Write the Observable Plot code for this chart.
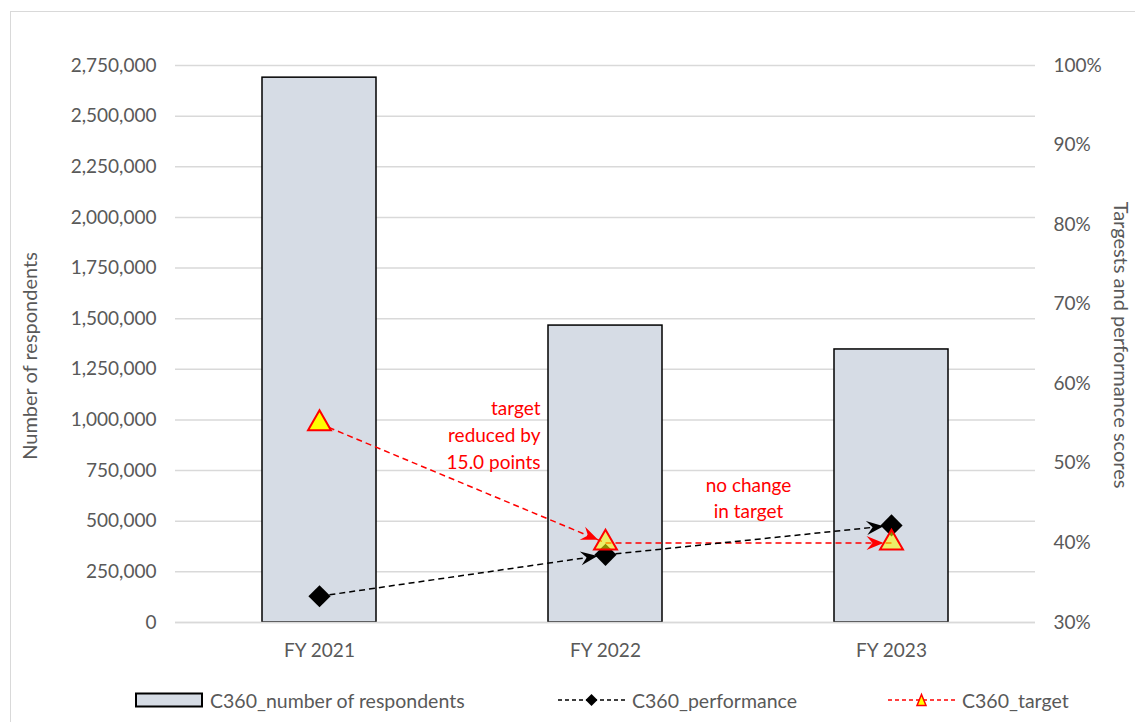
<!DOCTYPE html>
<html><head><meta charset="utf-8">
<script src="https://cdn.jsdelivr.net/npm/d3@7"></script>
<script src="https://cdn.jsdelivr.net/npm/@observablehq/plot@0.6"></script>
<style>
body{margin:0;background:#fff;overflow:hidden;font-family:Lato, sans-serif;}
#wrap{position:relative;width:1135px;height:722px;overflow:hidden;}
#frame{position:absolute;left:10px;top:11px;width:1300px;height:900px;border:1.5px solid #d9d9d9;box-sizing:border-box;pointer-events:none;}
#chart{position:absolute;left:0;top:0;}
#legend{position:absolute;top:680px;left:0;width:1135px;height:42px;}
.item{position:absolute;top:10px;height:20px;display:flex;align-items:center;font-size:19.5px;color:#595959;white-space:nowrap;}
.item svg{margin-right:7px;}
</style></head><body>
<div id="wrap"><div id="frame"></div><div id="chart"></div><div id="legend"></div></div>
<script>
// ---- data ----
const categories = ["FY 2021", "FY 2022", "FY 2023"];
const respondents = [2690000, 1466000, 1348000];
const performance = [33.3, 38.5, 42.2];   // %
const target = [55, 40, 40];              // %
const leftTicks = [0, 250000, 500000, 750000, 1000000, 1250000, 1500000, 1750000, 2000000, 2250000, 2500000, 2750000];
const rightTickValues = [30, 40, 50, 60, 70, 80, 90, 100];
const rightTickLabels = ["30%", "40%", "50%", "60%", "70%", "80%", "90%", "100%"];
const seriesNames = ["C360_number of respondents", "C360_performance", "C360_target"];
const leftTitle = "Number of respondents";
const rightTitle = "Targests and performance scores";
const note1 = "target\nreduced by\n15.0 points";
const note2 = "no change\nin target";

// ---- helpers ----
const leftMax = 2750000, rMin = 30, rMax = 100;
const toLeft = p => (p - rMin) / (rMax - rMin) * leftMax;
const rightTickPos = rightTickValues.map(toLeft);

const bars = categories.map((c, i) => ({cat: c, value: respondents[i]}));
const perfPts = categories.map((c, i) => ({cat: c, v: toLeft(performance[i])}));
const targPts = categories.map((c, i) => ({cat: c, v: toLeft(target[i]), overlap: Math.abs(target[i] - performance[i]) < 3}));
const segs = pts => pts.slice(0, -1).map((p, i) => ({x1: p.cat, y1: p.v, x2: pts[i + 1].cat, y2: pts[i + 1].v}));

function stealth(color) {
  const ns = "http://www.w3.org/2000/svg";
  const m = document.createElementNS(ns, "marker");
  m.setAttribute("markerUnits", "userSpaceOnUse");
  m.setAttribute("orient", "auto");
  m.setAttribute("markerWidth", "1");
  m.setAttribute("markerHeight", "1");
  m.setAttribute("refX", "8");
  m.setAttribute("refY", "0");
  m.setAttribute("overflow", "visible");
  const p = document.createElementNS(ns, "path");
  p.setAttribute("d", "M0,0L-17,-7L-11,0L-17,7Z");
  p.setAttribute("fill", color);
  p.setAttribute("stroke", "none");
  p.setAttribute("stroke-dasharray", "none");
  m.appendChild(p);
  return m;
}

const chart = Plot.plot({
  width: 1135, height: 680,
  marginTop: 65, marginBottom: 58, marginLeft: 175, marginRight: 100,
  style: {fontFamily: "Lato, sans-serif", fontSize: "19px", color: "#595959", background: "transparent"},
  x: {domain: categories, paddingInner: 0.6, paddingOuter: 0.3},
  y: {domain: [0, leftMax]},
  marks: [
    Plot.gridY(leftTicks, {stroke: "#d9d9d9", strokeOpacity: 1, strokeWidth: 1.5}),
    Plot.barY(bars, {x: "cat", y: "value", fill: "#d6dce5", stroke: "#000", strokeWidth: 1.5}),
    Plot.ruleY([0], {stroke: "#d9d9d9", strokeWidth: 1.5}),
    Plot.axisY(leftTicks, {anchor: "left", tickSize: 0, tickPadding: 19, tickFormat: d3.format(","), label: null, fill: "#595959"}),
    Plot.axisY(rightTickPos, {anchor: "right", tickSize: 0, tickPadding: 18, label: null, fill: "#595959",
      tickFormat: d => rightTickLabels[rightTickPos.indexOf(d)]}),
    Plot.axisX({tickSize: 0, tickPadding: 21, label: null, fill: "#595959"}),
    Plot.text([leftTitle], {text: d => d, frameAnchor: "left", textAnchor: "middle", dx: -145, dy: 12, rotate: -90, fill: "#595959", fontSize: 20}),
    Plot.text([rightTitle], {text: d => d, frameAnchor: "right", textAnchor: "middle", dx: 85, dy: 1, rotate: 90, fill: "#595959", fontSize: 20}),
    Plot.link(segs(targPts), {x1: "x1", y1: "y1", x2: "x2", y2: "y2", stroke: "#ff0000", strokeWidth: 1.5, strokeDasharray: "6,4", markerEnd: stealth}),
    Plot.link(segs(perfPts), {x1: "x1", y1: "y1", x2: "x2", y2: "y2", stroke: "#000000", strokeWidth: 1.5, strokeDasharray: "6,4", markerEnd: stealth}),
    Plot.dot(perfPts, {x: "cat", y: "v", symbol: "diamond2", r: 10, fill: "#000", stroke: "none"}),
    Plot.dot(targPts, {x: "cat", y: "v", symbol: "triangle", r: 8.5, fill: "#ffff00", stroke: "#ff0000", strokeWidth: 2,
      fillOpacity: d => d.overlap ? 0.55 : 1}),
    Plot.text([note1], {text: d => d, x: () => categories[1], y: () => 933000, dx: -65, textAnchor: "end", lineHeight: 1.4, fill: "#ff0000"}),
    Plot.text([note2], {text: d => d, x: () => categories[1], y: () => 620000, dx: 143, textAnchor: "middle", lineHeight: 1.35, fill: "#ff0000"})
  ]
});
document.getElementById("chart").appendChild(chart);

// ---- legend ----
const legend = document.getElementById("legend");
const items = [
  {left: 135, svg: `<svg width="68" height="16"><rect x="1" y="1.5" width="66" height="13" fill="#d6dce5" stroke="#000" stroke-width="2"/></svg>`},
  {left: 558, svg: `<svg width="67" height="16"><line x1="0" y1="8" x2="67" y2="8" stroke="#000" stroke-width="1.5" stroke-dasharray="4,3"/><path d="M33.5,2L39.5,8L33.5,14L27.5,8Z" fill="#000"/></svg>`},
  {left: 888, svg: `<svg width="67" height="16"><line x1="0" y1="8" x2="67" y2="8" stroke="#ff0000" stroke-width="1.5" stroke-dasharray="4,3"/><path d="M33.5,2.5L38,13.5L29,13.5Z" fill="#ffff00" stroke="#ff0000" stroke-width="1.5"/></svg>`}
];
items.forEach((it, i) => {
  const d = document.createElement("div");
  d.className = "item";
  d.style.left = it.left + "px";
  d.innerHTML = it.svg + `<span>${seriesNames[i]}</span>`;
  legend.appendChild(d);
});
</script>
</body></html>
